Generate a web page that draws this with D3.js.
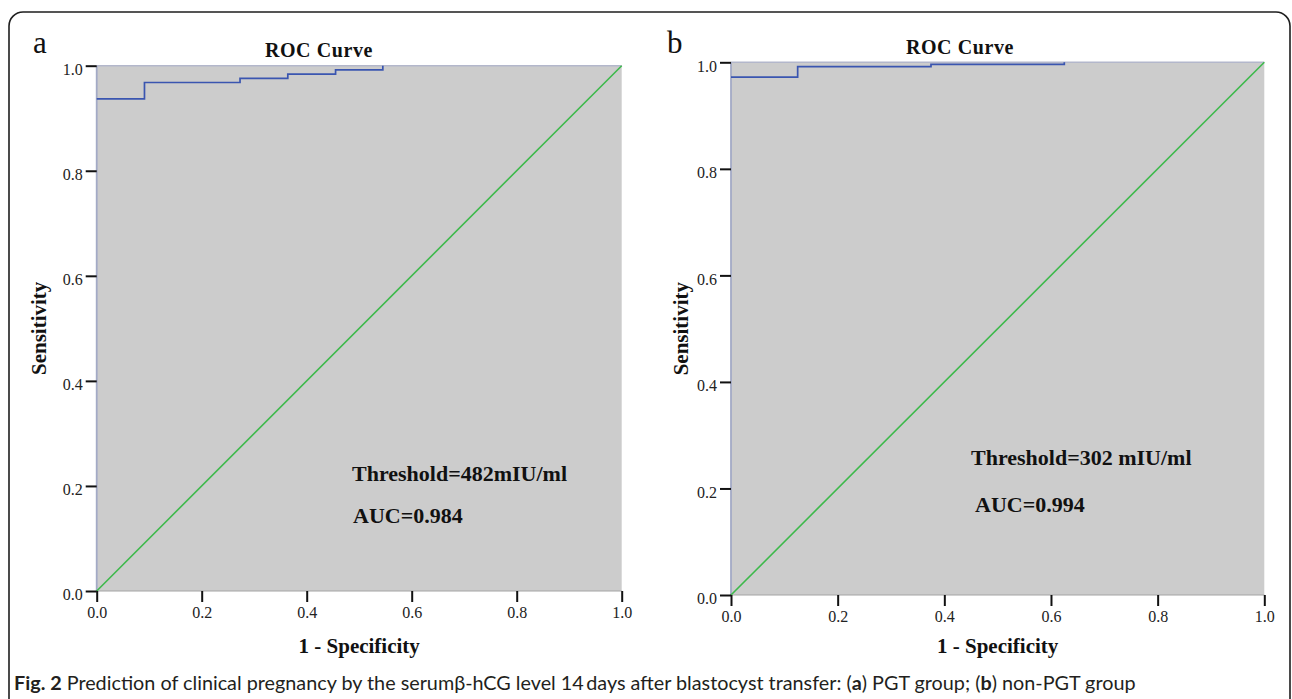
<!DOCTYPE html>
<html>
<head>
<meta charset="utf-8">
<script src="https://cdn.jsdelivr.net/npm/d3@7"></script>
<style>
  html, body { margin: 0; padding: 0; background: #fff; }
  svg { display: block; }
</style>
</head>
<body>
<svg id="chart" width="1292" height="699"></svg>
<script>
// ---- data ----
const tickValues = [0.0, 0.2, 0.4, 0.6, 0.8, 1.0];
const panelLetters = ["a", "b"];
const chartTitle = "ROC Curve";
const xAxisTitle = "1 - Specificity";
const yAxisTitle = "Sensitivity";

// Panel a (PGT group): stepped ROC curve
const fprA = [0.000, 0.091, 0.273, 0.364, 0.455, 0.545];
const sensA = [0.937, 0.968, 0.976, 0.984, 0.992, 1.000];
const thresholdA = "Threshold=482mIU/ml";
const aucA = "AUC=0.984";

// Panel b (non-PGT group)
const fprB = [0.000, 0.125, 0.375, 0.625];
const sensB = [0.972, 0.992, 0.996, 1.000];
const thresholdB = "Threshold=302 mIU/ml";
const aucB = "AUC=0.994";

// reference diagonal
const diagX = [0, 1];
const diagY = [0, 1];

const captionParts = [
  {t: "Fig. 2", b: true},
  {t: " Prediction of clinical pregnancy by the serumβ-hCG level 14\u2009days after blastocyst transfer: (", b: false},
  {t: "a", b: true},
  {t: ") PGT group; (", b: false},
  {t: "b", b: true},
  {t: ") non-PGT group", b: false}
];

// ---- layout ----
const svg = d3.select("#chart");
const serif = "'Liberation Serif', 'Times New Roman', serif";
const sans = "Lato, 'Open Sans', 'Noto Sans', sans-serif";
const C = {
  fill: "#cccccc", blue: "#3a55b0", green: "#3db94b",
  edgeL: "#a3aac6", edgeT: "#b3b7cb", edgeB: "#a4a4a4"
};

// outer rounded frame
svg.append("rect")
  .attr("x", 9).attr("y", 12).attr("width", 1281).attr("height", 720)
  .attr("rx", 14).attr("ry", 14)
  .attr("fill", "none").attr("stroke", "#1e1e1e").attr("stroke-width", 1.6);

const panels = [
  {letter: panelLetters[0], x0: 96.7, x1: 621.7, y0: 65.7, y1: 591,
   fpr: fprA, sens: sensA, thr: thresholdA, auc: aucA,
   letterX: 33, letterY: 53, titleX: 319, titleY: 57,
   yTitleX: 46, xTitleY: 653,
   thrX: 352, thrY: 481, aucX: 353, aucY: 523},
  {letter: panelLetters[1], x0: 731, x1: 1264.3, y0: 62.3, y1: 595,
   fpr: fprB, sens: sensB, thr: thresholdB, auc: aucB,
   letterX: 667, letterY: 53, titleX: 960, titleY: 54,
   yTitleX: 688, xTitleY: 653,
   thrX: 971, thrY: 465, aucX: 975, aucY: 512}
];

panels.forEach(p => {
  const x = d3.scaleLinear().domain([0, 1]).range([p.x0, p.x1]);
  const y = d3.scaleLinear().domain([0, 1]).range([p.y1, p.y0]);
  const g = svg.append("g");

  // plot background
  g.append("rect")
    .attr("x", x(0)).attr("y", y(1))
    .attr("width", x(1) - x(0)).attr("height", y(0) - y(1))
    .attr("fill", C.fill);

  // frame edges
  g.append("line").attr("x1", x(0)).attr("x2", x(1)).attr("y1", y(1)).attr("y2", y(1))
    .attr("stroke", C.edgeT).attr("stroke-width", 1.5);
  g.append("line").attr("x1", x(0)).attr("x2", x(1)).attr("y1", y(0)).attr("y2", y(0))
    .attr("stroke", C.edgeB).attr("stroke-width", 1.2);
  g.append("line").attr("x1", x(0)).attr("x2", x(0)).attr("y1", y(0)).attr("y2", y(1))
    .attr("stroke", C.edgeL).attr("stroke-width", 1.8);

  // diagonal reference line
  const diag = diagX.map((d, i) => [d, diagY[i]]);
  g.append("path")
    .attr("d", d3.line().x(d => x(d[0])).y(d => y(d[1]))(diag))
    .attr("fill", "none").attr("stroke", C.green).attr("stroke-width", 1.6);

  // ROC step curve
  const pts = p.fpr.map((f, i) => [f, p.sens[i]]);
  g.append("path")
    .attr("d", d3.line().x(d => x(d[0])).y(d => y(d[1])).curve(d3.curveStepAfter)(pts))
    .attr("fill", "none").attr("stroke", C.blue).attr("stroke-width", 1.7);

  // axes
  const xAxis = d3.axisBottom(x).tickValues(tickValues).tickFormat(d3.format(".1f"))
    .tickSize(11).tickPadding(4);
  const yAxis = d3.axisLeft(y).tickValues(tickValues).tickFormat(d3.format(".1f"))
    .tickSize(11).tickPadding(3);

  const gx = g.append("g").attr("transform", `translate(0,${y(0)})`).call(xAxis);
  const gy = g.append("g").attr("transform", `translate(${x(0)},0)`).call(yAxis);
  [gx, gy].forEach(ax => {
    ax.select(".domain").remove();
    ax.selectAll(".tick line").attr("stroke", "#111").attr("stroke-width", 2);
    ax.selectAll(".tick text").attr("fill", "#222")
      .style("font-family", serif).style("font-size", "16px");
  });
  gy.selectAll(".tick text").attr("dy", "0.55em");
  gx.selectAll(".tick text").attr("dy", "0.75em");

  // panel letter
  svg.append("text").attr("x", p.letterX).attr("y", p.letterY)
    .style("font-family", serif).style("font-size", "31px").attr("fill", "#111")
    .text(p.letter);

  // title
  svg.append("text").attr("x", p.titleX).attr("y", p.titleY).attr("text-anchor", "middle")
    .style("font-family", serif).style("font-size", "20px").style("font-weight", "bold")
    .style("letter-spacing", "0.6px").attr("fill", "#111")
    .text(chartTitle);

  // axis titles
  svg.append("text").attr("x", (p.x0 + p.x1) / 2).attr("y", p.xTitleY).attr("text-anchor", "middle")
    .style("font-family", serif).style("font-size", "21px").style("font-weight", "bold")
    .attr("fill", "#111").text(xAxisTitle);
  svg.append("text")
    .attr("transform", `translate(${p.yTitleX},${(p.y0 + p.y1) / 2}) rotate(-90)`)
    .attr("text-anchor", "middle")
    .style("font-family", serif).style("font-size", "21px").style("font-weight", "bold")
    .attr("fill", "#111").text(yAxisTitle);

  // annotations
  svg.append("text").attr("x", p.thrX).attr("y", p.thrY)
    .style("font-family", serif).style("font-size", "22px").style("font-weight", "bold")
    .attr("fill", "#111").text(p.thr);
  svg.append("text").attr("x", p.aucX).attr("y", p.aucY)
    .style("font-family", serif).style("font-size", "22px").style("font-weight", "bold")
    .attr("fill", "#111").text(p.auc);
});

// caption
const cap = svg.append("text").attr("x", 14).attr("y", 690)
  .style("font-family", sans).style("font-size", "16px").attr("fill", "#231f20");
captionParts.forEach(part => {
  cap.append("tspan").style("font-weight", part.b ? "bold" : "normal").text(part.t);
});
const w = cap.node().getComputedTextLength();
cap.style("font-size", (16 * 1122 / w).toFixed(2) + "px");
</script>
</body>
</html>
